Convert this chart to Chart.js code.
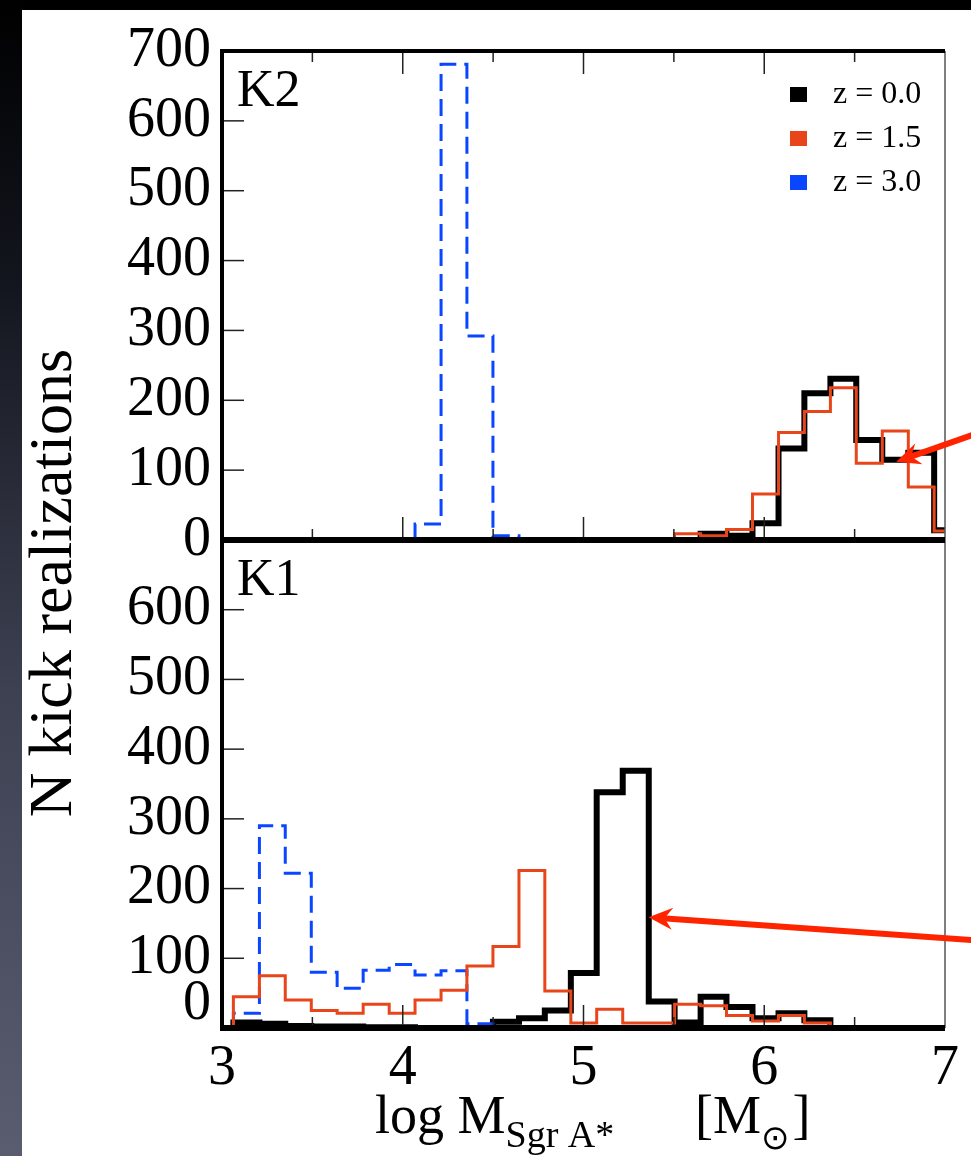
<!DOCTYPE html>
<html>
<head>
<meta charset="utf-8">
<script src="https://cdn.jsdelivr.net/npm/chart.js@4.4.1/dist/chart.umd.min.js"></script>
<style>
  html, body { margin: 0; padding: 0; background: #000; }
  body { width: 971px; height: 1156px; position: relative; overflow: hidden; }
  #strip { position: absolute; left: 0; top: 0; width: 24px; height: 1156px;
           background: linear-gradient(#000 0%, #14161f 25%, #3e4152 60%, #5a5d70 100%); }
  #sheet { position: absolute; left: 22px; top: 10px; right: 0; bottom: 0; background: #fff; }
  canvas { position: absolute; left: 0; top: 0; }
</style>
</head>
<body>
<div id="strip"></div>
<div id="sheet"></div>
<canvas id="chartK2" width="971" height="1156"></canvas>
<canvas id="chartK1" width="971" height="1156"></canvas>
<script>
// bordes de los bins en log M
const binEdges = [3.063, 3.207, 3.350, 3.494, 3.637, 3.781, 3.925, 4.068, 4.212, 4.355,
                  4.499, 4.643, 4.786, 4.930, 5.073, 5.217, 5.361, 5.504, 5.648, 5.791,
                  5.935, 6.079, 6.222, 6.366, 6.509, 6.653, 6.797, 6.940, 7.084];

// panel K2 (null = bin sin dibujar)
const k2Black  = [null, null, null, null, null, null, null, null, null, null,
                  null, null, null, null, null, null, null, null, 9, 6,
                  24, 131, 210, 231, 143, 115, 125, 14];
const k2Orange = [null, null, null, null, null, null, null, null, null, null,
                  null, null, null, null, null, null, null, 9, 6, 15,
                  66, 154, 184, 218, 110, 156, 76, 13];
const k2Blue   = [null, null, null, null, null, null, null, 23, 681, 292,
                  6, null, null, null, null, null, null, null, null, null,
                  null, null, null, null, null, null, null, null];

// panel K1
const k1Black  = [8, 6, 3, 2, 2, 1, 1, 0, 0, 0,
                  9, 14, 25, 79, 338, 369, 38, 8, 45, 30,
                  14, 21, 11, null, null, null, null, null];
const k1Orange = [45, 75, 40, 25, 21, 34, 21, 40, 54, 89,
                  117, 226, 53, 7, 27, 7, 7, 34, 32, 18,
                  10, 18, 7, null, null, null, null, null];
const k1Blue   = [21, 290, 222, 80, 57, 83, 91, 76, 82, 6,
                  null, null, null, null, null, null, null, null, null, null,
                  null, null, null, null, null, null, null, null];

const seriesLabels = ['z = 0.0', 'z = 1.5', 'z = 3.0'];
const yTicks = [0, 100, 200, 300, 400, 500, 600, 700];
const xTicks = [3, 4, 5, 6, 7];
const xMajorMarks = [4, 5, 6];
const xMinorMarks = [3.5, 4.5, 5.5, 6.5];

// flechas rojas en coordenadas de datos
const arrowsK2 = [{tip: {x: 6.73, y: 112}, tail: {x: 7.16, y: 151}}];
const arrowsK1 = [{tip: {x: 5.36, y: 159}, tail: {x: 7.16, y: 126}}];

const BLACK = '#000000', ORANGE = '#e8461a', BLUE = '#0a46ff', RED = '#ff2400';
const SERIF = "'Liberation Serif', 'Times New Roman', serif";
Chart.defaults.font.family = SERIF;
Chart.defaults.color = '#000';

// convierte los conteos en puntos para una linea escalonada
function toSteps(values) {
    const pts = [];
    let i = 0;
    while (i < values.length) {
        if (values[i] === null) { i++; continue; }
        pts.push({x: binEdges[i], y: 0});
        while (i < values.length && values[i] !== null) {
            pts.push({x: binEdges[i], y: values[i]});
            i++;
        }
        pts.push({x: binEdges[i], y: values[i - 1]});
        pts.push({x: binEdges[i], y: 0});
        pts.push({x: binEdges[i], y: null});
    }
    return pts;
}

function line(ctx, x1, y1, x2, y2) {
    ctx.beginPath(); ctx.moveTo(x1, y1); ctx.lineTo(x2, y2); ctx.stroke();
}

// marco y ticks interiores
const framePlugin = {
    id: 'frame',
    afterDraw(chart, args, o) {
        const {ctx, chartArea: a} = chart;
        const x = chart.scales.x, y = chart.scales.y;
        ctx.save();
        ctx.strokeStyle = '#222';
        ctx.lineWidth = 1.5;
        yTicks.forEach(v => {
            if (v === 0 || v === 700) return;
            const py = y.getPixelForValue(v);
            line(ctx, a.left, py, a.left + 22, py);
        });
        const marks = (vals, len) => vals.forEach(v => {
            const px = x.getPixelForValue(v);
            line(ctx, px, a.bottom, px, a.bottom - len);
            if (o.topTicks) line(ctx, px, a.top, px, a.top + len);
        });
        marks(xMajorMarks, 23);
        marks(xMinorMarks, 11);
        // bordes
        ctx.strokeStyle = '#555';
        ctx.lineWidth = 1.5;
        line(ctx, a.right, a.top, a.right, a.bottom);
        ctx.strokeStyle = '#000';
        ctx.lineWidth = 4;
        line(ctx, a.left, a.top - 2, a.left, a.bottom + 3);
        ctx.lineWidth = o.topWidth;
        line(ctx, a.left - 2, a.top, a.right, a.top);
        ctx.lineWidth = 6;
        line(ctx, a.left - 2, a.bottom, a.right, a.bottom);
        // etiqueta del panel
        ctx.fillStyle = '#000';
        ctx.font = '52px ' + SERIF;
        ctx.textBaseline = 'alphabetic';
        ctx.fillText(o.label, a.left + 15, a.top + 55);
        ctx.restore();
    }
};

// flechas
const arrowPlugin = {
    id: 'arrows',
    afterDraw(chart, args, o) {
        const {ctx} = chart;
        const x = chart.scales.x, y = chart.scales.y;
        ctx.save();
        ctx.strokeStyle = RED;
        ctx.fillStyle = RED;
        (o.list || []).forEach(ar => {
            const tx = x.getPixelForValue(ar.tip.x), ty = y.getPixelForValue(ar.tip.y);
            const sx = x.getPixelForValue(ar.tail.x), sy = y.getPixelForValue(ar.tail.y);
            const ang = Math.atan2(sy - ty, sx - tx);
            const c = Math.cos(ang), s = Math.sin(ang);
            ctx.lineWidth = 6;
            line(ctx, tx + 14 * c, ty + 14 * s, sx, sy);
            ctx.beginPath();
            ctx.moveTo(tx, ty);
            ctx.lineTo(tx + 24 * c - 11 * s, ty + 24 * s + 11 * c);
            ctx.lineTo(tx + 16 * c, ty + 16 * s);
            ctx.lineTo(tx + 24 * c + 11 * s, ty + 24 * s - 11 * c);
            ctx.closePath();
            ctx.fill();
        });
        ctx.restore();
    }
};

// leyenda con cuadrados dentro del panel
const boxLegend = {
    id: 'boxLegend',
    afterDraw(chart, args, o) {
        if (!o.show) return;
        const {ctx, chartArea: a} = chart;
        ctx.save();
        ctx.font = '32px ' + SERIF;
        ctx.textBaseline = 'middle';
        chart.data.datasets.forEach((ds, i) => {
            const cy = a.top + 43 + i * 44;
            ctx.fillStyle = ds.borderColor;
            ctx.fillRect(a.right - 155, cy - 7, 17, 15);
            ctx.fillStyle = '#000';
            ctx.fillText(ds.label, a.right - 112, cy + 1);
        });
        ctx.restore();
    }
};

// titulos de los ejes con subindices
const axisTitles = {
    id: 'axisTitles',
    afterDraw(chart, args, o) {
        if (!o.show) return;
        const {ctx} = chart;
        ctx.save();
        ctx.fillStyle = '#000';
        ctx.textBaseline = 'alphabetic';
        const big = '54px ' + SERIF, small = '38px ' + SERIF;
        let px = 375;
        const put = (t, f, by) => { ctx.font = f; ctx.fillText(t, px, by); px += ctx.measureText(t).width; };
        put('log M', big, 1133);
        put('Sgr A*', small, 1147);
        px = 695;
        put('[M', big, 1133);
        ctx.font = '34px DejaVu Sans';
        ctx.fillText('\u2299', px, 1149);
        px += ctx.measureText('\u2299').width + 3;
        put(']', big, 1133);
        ctx.translate(55, 583);
        ctx.rotate(-Math.PI / 2);
        ctx.textAlign = 'center';
        ctx.textBaseline = 'middle';
        ctx.font = '62px ' + SERIF;
        ctx.fillText('N kick realizations', 0, 0);
        ctx.restore();
    }
};

function makeDatasets(black, orange, blue) {
    const common = {pointRadius: 0, tension: 0, stepped: 'before', spanGaps: false,
                    borderJoinStyle: 'miter', borderCapStyle: 'butt', fill: false};
    return [
        Object.assign({label: seriesLabels[0], data: toSteps(black), borderColor: BLACK,
                       borderWidth: 6, order: 2}, common),
        Object.assign({label: seriesLabels[1], data: toSteps(orange), borderColor: ORANGE,
                       borderWidth: 3, order: 0}, common),
        Object.assign({label: seriesLabels[2], data: toSteps(blue), borderColor: BLUE,
                       borderWidth: 3, borderDash: [17, 8], order: 1}, common)
    ];
}

function initPanel(id, datasets, opts) {
    return new Chart(document.getElementById(id), {
        type: 'line',
        data: {datasets: datasets},
        options: {
            responsive: false,
            animation: false,
            events: [],
            layout: {padding: {left: 0, right: 26, top: opts.top, bottom: opts.bottom}},
            plugins: {
                legend: {display: false},
                tooltip: {enabled: false},
                frame: {label: opts.label, topTicks: opts.topTicks, topWidth: opts.topWidth},
                arrows: {list: opts.arrows},
                boxLegend: {show: opts.legend},
                axisTitles: {show: opts.titles}
            },
            scales: {
                x: {
                    type: 'linear', min: 3, max: 7,
                    display: opts.xLabels,
                    afterBuildTicks: s => { s.ticks = xTicks.map(v => ({value: v})); },
                    afterFit: s => { s.height = opts.xLabels ? 128 : 0; },
                    grid: {display: false},
                    border: {display: false},
                    ticks: {font: {size: 56}, padding: 0, maxRotation: 0, autoSkip: false, color: '#000'}
                },
                y: {
                    type: 'linear', min: 0, max: 700,
                    afterBuildTicks: s => { s.ticks = yTicks.map(v => ({value: v})); },
                    afterFit: s => { s.width = 222; },
                    grid: {display: false},
                    border: {display: false},
                    ticks: {
                        font: {size: 56, lineHeight: 0.85}, padding: 3, color: '#000',
                        autoSkip: false,
                        callback: v => opts.yLabel(v)
                    }
                }
            }
        },
        plugins: [framePlugin, boxLegend, arrowPlugin, axisTitles]
    });
}

const charts = {};
charts.k2 = initPanel('chartK2', makeDatasets(k2Black, k2Orange, k2Blue), {
    top: 51, bottom: 1156 - 540, label: 'K2', topTicks: true, topWidth: 4,
    arrows: arrowsK2, legend: true, titles: false, xLabels: false,
    yLabel: v => String(v)
});
charts.k1 = initPanel('chartK1', makeDatasets(k1Black, k1Orange, k1Blue), {
    top: 540, bottom: 0, label: 'K1', topTicks: false, topWidth: 6,
    arrows: arrowsK1, legend: false, titles: true, xLabels: true,
    yLabel: v => v === 700 ? '' : (v === 0 ? ['0', ''] : String(v))
});
</script>
</body>
</html>
